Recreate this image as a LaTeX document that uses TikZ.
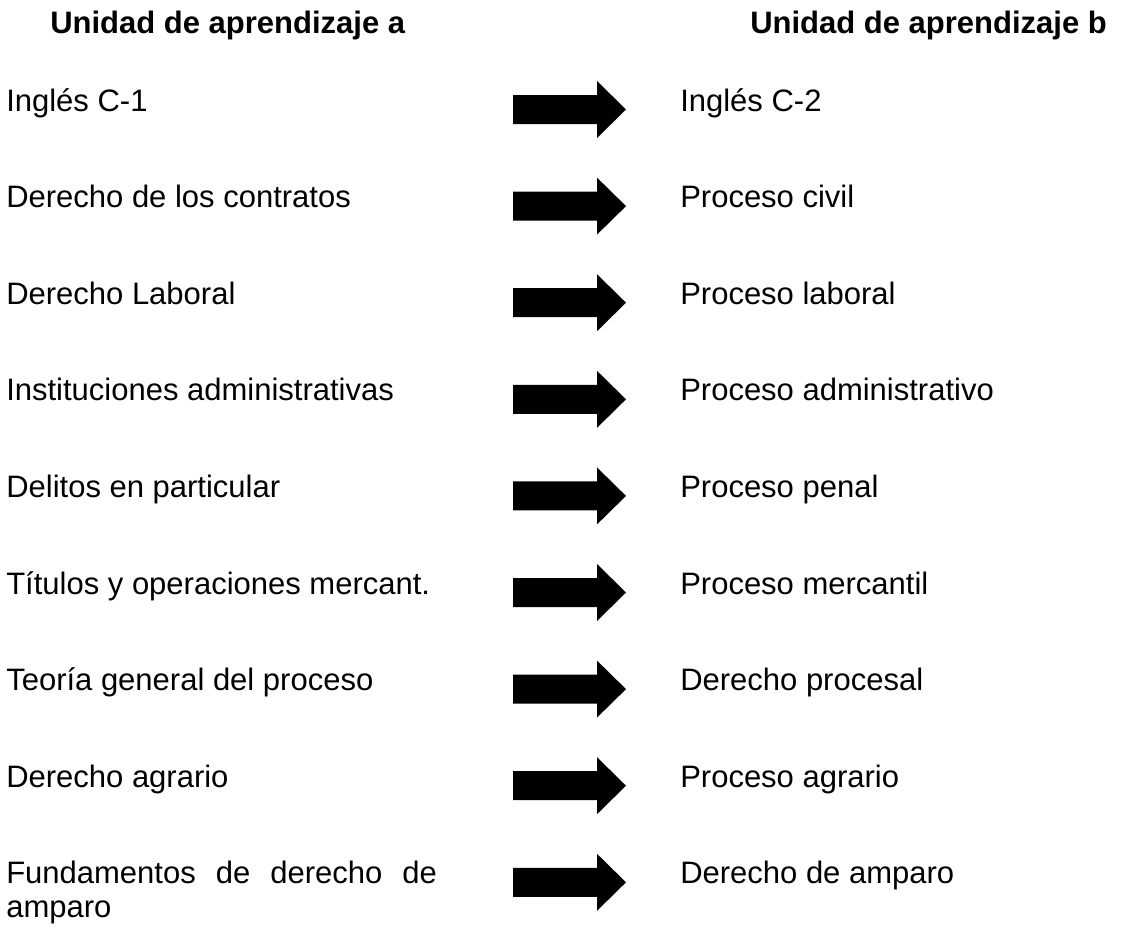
\documentclass[tikz,border=0pt]{standalone}
\usepackage{fontspec}
\setmainfont{Liberation Sans}

\begin{document}
\begin{tikzpicture}[x=0.75pt,y=-0.75pt]
  \tikzstyle{titulo} = [anchor=base west, inner sep=0pt, font=\fontsize{23.25}{25.5}\selectfont\bfseries];
  \tikzstyle{unidad} = [anchor=base west, inner sep=0pt, font=\fontsize{23.25}{25.5}\selectfont];
  \tikzstyle{flecha} = [fill=black];

  \useasboundingbox (0,0) rectangle (1122,926);

  \node[titulo] (ta) at (50,33) {Unidad de aprendizaje a};
  \node[titulo] (tb) at (750,33) {Unidad de aprendizaje b};

  \node[unidad] (a1) at (6,111) {Inglés C-1};
  \node[unidad] (a2) at (6,207.6) {Derecho de los contratos};
  \node[unidad] (a3) at (6,304.2) {Derecho Laboral};
  \node[unidad] (a4) at (6,400.8) {Instituciones administrativas};
  \node[unidad] (a5) at (6,497.4) {Delitos en particular};
  \node[unidad] (a6) at (6,594) {Títulos y operaciones mercant.};
  \node[unidad] (a7) at (6,690.6) {Teoría general del proceso};
  \node[unidad] (a8) at (6,787.2) {Derecho agrario};
  \node[unidad, text width=323pt, align=justify] (a9) at (6,883.8) {Fundamentos de derecho de \mbox{amparo}};

  \node[unidad] (b1) at (680,111) {Inglés C-2};
  \node[unidad] (b2) at (680,207.6) {Proceso civil};
  \node[unidad] (b3) at (680,304.2) {Proceso laboral};
  \node[unidad] (b4) at (680,400.8) {Proceso administrativo};
  \node[unidad] (b5) at (680,497.4) {Proceso penal};
  \node[unidad] (b6) at (680,594) {Proceso mercantil};
  \node[unidad] (b7) at (680,690.6) {Derecho procesal};
  \node[unidad] (b8) at (680,787.2) {Proceso agrario};
  \node[unidad] (b9) at (680,883.8) {Derecho de amparo};

  \fill[flecha] (513,95) -- ++(84,0) -- ++(0,-14) -- ++(29,28.5) -- ++(-29,28.5) -- ++(0,-14) -- ++(-84,0) -- cycle;
  \fill[flecha] (513,191.6) -- ++(84,0) -- ++(0,-14) -- ++(29,28.5) -- ++(-29,28.5) -- ++(0,-14) -- ++(-84,0) -- cycle;
  \fill[flecha] (513,288.2) -- ++(84,0) -- ++(0,-14) -- ++(29,28.5) -- ++(-29,28.5) -- ++(0,-14) -- ++(-84,0) -- cycle;
  \fill[flecha] (513,384.8) -- ++(84,0) -- ++(0,-14) -- ++(29,28.5) -- ++(-29,28.5) -- ++(0,-14) -- ++(-84,0) -- cycle;
  \fill[flecha] (513,481.4) -- ++(84,0) -- ++(0,-14) -- ++(29,28.5) -- ++(-29,28.5) -- ++(0,-14) -- ++(-84,0) -- cycle;
  \fill[flecha] (513,578) -- ++(84,0) -- ++(0,-14) -- ++(29,28.5) -- ++(-29,28.5) -- ++(0,-14) -- ++(-84,0) -- cycle;
  \fill[flecha] (513,674.6) -- ++(84,0) -- ++(0,-14) -- ++(29,28.5) -- ++(-29,28.5) -- ++(0,-14) -- ++(-84,0) -- cycle;
  \fill[flecha] (513,771.2) -- ++(84,0) -- ++(0,-14) -- ++(29,28.5) -- ++(-29,28.5) -- ++(0,-14) -- ++(-84,0) -- cycle;
  \fill[flecha] (513,867.8) -- ++(84,0) -- ++(0,-14) -- ++(29,28.5) -- ++(-29,28.5) -- ++(0,-14) -- ++(-84,0) -- cycle;

\end{tikzpicture}
\end{document}
